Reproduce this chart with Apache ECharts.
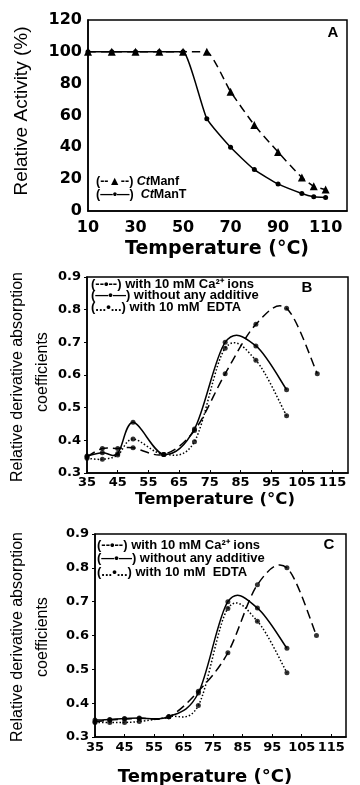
<!DOCTYPE html>
<html>
<head>
<meta charset="utf-8">
<script src="https://cdn.jsdelivr.net/npm/echarts@6/dist/echarts.min.js"></script>
<style>
  html, body { margin: 0; padding: 0; background: #fff; }
  #chart { width: 360px; height: 785px; }
</style>
</head>
<body>
<div id="chart"></div>
<script>
// Panel A: thermal stability
const tempA = [10, 20, 30, 40, 50, 60, 70, 80, 90, 100, 105, 110];
const ctManf = [100, 100, 100, 100, 100, 100, 75, 54, 37, 21, 15.5, 13.5];
const ctManT = [100, 100, 100, 100, 100, 58, 40, 26, 17, 11, 9, 8.5];

// Panels B and C: derivative absorption coefficients
const tempBC = [35, 40, 45, 50, 60, 70, 80, 90, 100, 110];
const caB = [0.35, 0.375, 0.375, 0.377, 0.357, 0.43, 0.604, 0.755, 0.804, 0.604];
const noneB = [0.352, 0.362, 0.36, 0.455, 0.357, 0.435, 0.70, 0.689, 0.555];
const edtaB = [0.345, 0.342, 0.355, 0.404, 0.357, 0.396, 0.682, 0.645, 0.475];

const caC = [0.345, 0.35, 0.353, 0.355, 0.36, 0.435, 0.549, 0.75, 0.80, 0.60];
const noneC = [0.35, 0.352, 0.355, 0.356, 0.36, 0.43, 0.70, 0.681, 0.562];
const edtaC = [0.343, 0.343, 0.343, 0.346, 0.36, 0.393, 0.68, 0.642, 0.49];

const legendBC = ['(--\u2022--) with 10 mM Ca\u00B2\u207A ions', '(\u2014\u2022\u2014) without any additive', '(...\u2022...) with 10 mM  EDTA'];

const TICK_FONT = 'DejaVu Sans';
const TEXT_FONT = 'Liberation Sans';
const DASH = [9, 5];
const DOT = [1.5, 2];

const chart = echarts.init(document.getElementById('chart'));

function zip(xs, ys) {
  return ys.map((y, i) => [xs[i], y]);
}

function xAxisBase(gridIndex, min, max, interval, fontSize, margin, ticks) {
  return {
    type: 'value', gridIndex, min, max, interval,
    axisLine: { show: true, onZero: false, lineStyle: { color: '#000', width: 1.5 } },
    axisTick: { show: ticks, inside: true, length: 3, lineStyle: { color: '#000' } },
    splitLine: { show: false },
    axisLabel: {
      color: '#000', fontFamily: TICK_FONT, fontWeight: 'bold', fontSize,
      margin, showMaxLabel: false,
    },
  };
}

function yAxisBase(gridIndex, min, max, interval, fontSize, digits, ticks) {
  return {
    type: 'value', gridIndex, min, max, interval,
    axisLine: { show: true, onZero: false, lineStyle: { color: '#000', width: 1.5 } },
    axisTick: { show: ticks, length: 3, lineStyle: { color: '#000' } },
    splitLine: { show: false },
    axisLabel: {
      color: '#000', fontFamily: TICK_FONT, fontWeight: 'bold', fontSize,
      margin: 6, formatter: v => v.toFixed(digits),
    },
  };
}

function line(name, xi, data, type, symbol, size, smooth) {
  return {
    name, type: 'line', xAxisIndex: xi, yAxisIndex: xi,
    data, smooth, symbol, symbolSize: size,
    itemStyle: { color: '#000' },
    lineStyle: { color: '#000', width: 1.5, type },
    z: 3,
  };
}

// smooth curve through the points (catmull-rom), drawn in pixel space from the axis scales
function curve(xi, xs, ys, dash) {
  return {
    type: 'custom', coordinateSystem: 'cartesian2d', xAxisIndex: xi, yAxisIndex: xi,
    data: [[xs[0], ys[0]]],
    silent: true, z: 2,
    renderItem: (params, api) => {
      const pts = ys.map((y, i) => api.coord([xs[i], y]));
      let d = 'M ' + pts[0][0] + ' ' + pts[0][1];
      for (let i = 0; i < pts.length - 1; i++) {
        const p0 = pts[i - 1] || pts[i], p1 = pts[i], p2 = pts[i + 1], p3 = pts[i + 2] || p2;
        const c1x = p1[0] + (p2[0] - p0[0]) / 6, c1y = p1[1] + (p2[1] - p0[1]) / 6;
        const c2x = p2[0] - (p3[0] - p1[0]) / 6, c2y = p2[1] - (p3[1] - p1[1]) / 6;
        d += ' C ' + c1x + ' ' + c1y + ' ' + c2x + ' ' + c2y + ' ' + p2[0] + ' ' + p2[1];
      }
      return {
        type: 'path', shape: { pathData: d },
        style: { fill: null, stroke: '#000', lineWidth: 1.5, lineDash: dash },
      };
    },
  };
}

function dots(xi, xs, ys) {
  return {
    type: 'scatter', xAxisIndex: xi, yAxisIndex: xi, data: zip(xs, ys),
    symbol: 'circle', symbolSize: 5, itemStyle: { color: '#000' }, silent: true, z: 3,
  };
}

function txt(x, y, text, opts) {
  return Object.assign({
    type: 'text', x, y, silent: true,
    style: Object.assign({
      text, fill: '#000', fontFamily: TEXT_FONT, fontSize: 13, fontWeight: 'bold',
      textAlign: 'left', textVerticalAlign: 'middle',
    }, opts.style || {}),
  }, opts.el || {});
}

const vert = { rotation: Math.PI / 2 };
const italic = { i: { fontStyle: 'italic', fontWeight: 'bold', fontSize: 12.5, fontFamily: TEXT_FONT } };

chart.setOption({
  animation: false,
  backgroundColor: '#fff',
  grid: [
    { left: 88, right: 13, top: 20, bottom: 574, show: true, borderColor: '#000', borderWidth: 1.5 },
    { left: 87, right: 12, top: 277, bottom: 312, show: true, borderColor: '#000', borderWidth: 1.5 },
    { left: 95, right: 14, top: 534, bottom: 48, show: true, borderColor: '#000', borderWidth: 1.5 },
  ],
  xAxis: [
    xAxisBase(0, 10, 119, 20, 16, 9, false),
    xAxisBase(1, 35, 120, 10, 13, 3, true),
    xAxisBase(2, 35, 120, 10, 13, 4, true),
  ],
  yAxis: [
    yAxisBase(0, 0, 120, 20, 16, 0, false),
    yAxisBase(1, 0.3, 0.9, 0.1, 13, 1, true),
    yAxisBase(2, 0.3, 0.9, 0.1, 13, 1, true),
  ],
  series: [
    line('CtManf', 0, zip(tempA, ctManf), [8, 5], 'triangle', 8, 0.15),
    line('CtManT', 0, zip(tempA, ctManT), 'solid', 'circle', 5, 0.15),

    curve(1, tempBC, caB, DASH), dots(1, tempBC, caB),
    curve(1, tempBC, noneB, 'solid'), dots(1, tempBC, noneB),
    curve(1, tempBC, edtaB, DOT), dots(1, tempBC, edtaB),

    curve(2, tempBC, caC, DASH), dots(2, tempBC, caC),
    curve(2, tempBC, noneC, 'solid'), dots(2, tempBC, noneC),
    curve(2, tempBC, edtaC, DOT), dots(2, tempBC, edtaC),
  ],
  graphic: [
    // panel A
    txt(22, 111, 'Relative Activity (%)', { el: vert, style: { textAlign: 'center', fontWeight: 'normal', fontSize: 19 } }),
    txt(217, 249, 'Temperature (\u00B0C)', { style: { textAlign: 'center', fontFamily: TICK_FONT, fontSize: 19 } }),
    txt(333, 33, 'A', { style: { textAlign: 'center', fontSize: 15 } }),
    txt(96, 182, '(--\u25B2--) {i|Ct}Manf', { style: { fontSize: 12.5, rich: italic } }),
    txt(96, 195, '(\u2014\u2022\u2014)  {i|Ct}ManT', { style: { fontSize: 12.5, rich: italic } }),

    // panel B
    txt(18, 377, 'Relative derivative absorption', { el: vert, style: { textAlign: 'center', fontWeight: 'normal', fontSize: 16 } }),
    txt(43, 372, 'coefficients', { el: vert, style: { textAlign: 'center', fontWeight: 'normal', fontSize: 16 } }),
    txt(215, 500, 'Temperature (\u00B0C)', { style: { textAlign: 'center', fontFamily: TICK_FONT, fontSize: 16.5 } }),
    txt(307, 288, 'B', { style: { textAlign: 'center', fontSize: 15 } }),
    txt(91, 284, legendBC[0], { style: { fontSize: 13 } }),
    txt(91, 295.5, legendBC[1], { style: { fontSize: 13 } }),
    txt(91, 307, legendBC[2], { style: { fontSize: 13 } }),

    // panel C
    txt(18, 637, 'Relative derivative absorption', { el: vert, style: { textAlign: 'center', fontWeight: 'normal', fontSize: 16 } }),
    txt(43, 637, 'coefficients', { el: vert, style: { textAlign: 'center', fontWeight: 'normal', fontSize: 16 } }),
    txt(205, 777, 'Temperature (\u00B0C)', { style: { textAlign: 'center', fontFamily: TICK_FONT, fontSize: 18 } }),
    txt(329, 545, 'C', { style: { textAlign: 'center', fontSize: 15 } }),
    txt(97, 545, legendBC[0], { style: { fontSize: 13 } }),
    txt(97, 558.5, legendBC[1], { style: { fontSize: 13 } }),
    txt(97, 572, legendBC[2], { style: { fontSize: 13 } }),
  ],
});
</script>
</body>
</html>
